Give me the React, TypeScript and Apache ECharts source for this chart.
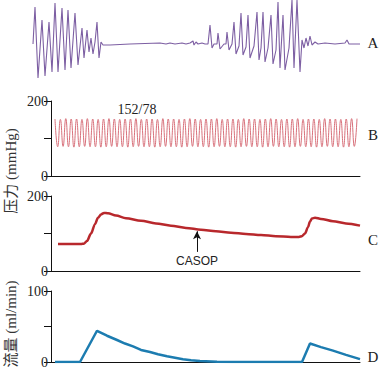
import React, { useEffect, useRef } from "react";
import * as echarts from "echarts";

// Panel A: nerve activity trace, [time, amplitude]
const traceA: [number, number][] = [
  [33, 0], [35, 37], [38, -34], [42, 24], [45, -32], [49, 22], [52, -28], [55, 41], [58, -28],
  [62, 36], [65, -26], [68, 34], [71, -24], [75, 31], [78, -21], [82, 16], [84, -14], [87, 14],
  [89, -8], [91, 6], [93, -10], [95, 2], [97, 22], [99, -14], [101, 2], [103, -1], [110, -1],
  [130, 0], [160, 1], [166, 0], [170, 1], [175, 0], [182, 1], [186, 0], [190, 1], [193, 3],
  [194, -1], [196, 2], [198, 0], [202, 1], [205, 0], [208, 0], [210, 19], [212, -4], [214, 0],
  [217, 0], [218, 11], [220, -5], [224, 0], [226, 0], [227, 12], [229, -6], [232, 0], [234, 22],
  [236, -10], [239, -2], [241, 31], [243, -11], [246, -3], [248, 29], [250, -14], [254, -2],
  [257, 32], [259, -16], [261, -4], [263, 32], [265, -18], [268, -4], [271, 29], [273, -20],
  [276, -6], [278, 42], [280, -24], [283, 29], [285, -26], [289, -4], [292, 44], [294, -24],
  [297, 44], [300, -28], [302, 4], [304, -4], [306, 6], [308, -2], [310, 8], [312, -1],
  [315, 2], [318, 0], [325, 1], [335, 0], [345, 1], [347, 4], [349, 0], [360, 0],
];

// Panel B: arterial pressure beats (mmHg)
const systolic = [
  152, 151, 153, 152, 152, 151, 153, 152, 151, 152, 153, 152, 151, 152, 152, 153, 151, 152, 152,
  151, 153, 152, 152, 151, 152, 153, 152, 151, 152, 152, 153, 151, 152, 152, 151, 153, 152, 152,
  151, 152, 153, 152, 151, 152, 152, 153, 151, 152, 152, 151, 153, 152, 152, 151, 152, 153,
];
const diastolic = [
  78, 79, 78, 77, 78, 79, 78, 78, 77, 78, 79, 78, 78, 77, 78, 79, 78, 78, 77, 78, 79, 78, 78,
  77, 78, 79, 78, 78, 77, 78, 79, 78, 78, 77, 78, 79, 78, 78, 77, 78, 79, 78, 78, 77, 78, 79,
  78, 78, 77, 78, 79, 78, 78, 77, 78, 79,
];
const beatStart = 4;
const beatEnd = 306;
const bpLabel = "152/78";
const bpLabelAt: [number, number] = [86, 178];

// Panel C: coronary sinus pressure (mmHg), [time, value]
const pressureC: [number, number][] = [
  [7, 72], [30, 72], [33, 73], [36, 80], [40, 100], [44, 125], [47, 142], [50, 151], [53, 155],
  [57, 154], [65, 148], [75, 141], [90, 134], [105, 127], [120, 121], [135, 115], [150, 110],
  [165, 106], [180, 102], [195, 99], [210, 96], [225, 93], [240, 91], [248, 91], [251, 93],
  [254, 100], [257, 117], [259, 132], [261, 140], [264, 142], [270, 139], [282, 133], [295, 127],
  [309, 121],
];
const casopTime = 146;
const casopFrom = 51;
const casopTo = 106;

// Panel D: flow (ml/min), [time, value]
const flowD: [number, number][] = [
  [4, 0], [29, 0], [46, 44], [56, 37], [66, 31], [74, 26], [82, 22], [90, 17], [99, 14],
  [107, 11], [116, 8], [124, 6], [132, 4], [140, 2.5], [149, 1.5], [166, 0.5], [182, 0],
  [251, 0], [259, 26], [270, 21], [282, 16], [295, 10], [309, 4],
];

const panelLabels = ["A", "B", "C", "D"];
const pressureTicks = [0, 100, 200];
const flowTicks = [0, 50, 100];

const serif = "'Liberation Serif', 'Noto Sans CJK SC', serif";

export default function App() {
  const ref = useRef<HTMLDivElement>(null);
  useEffect(() => {
    if (!ref.current) return;
    const chart = echarts.init(ref.current, null, { renderer: "svg" });

    const period = (beatEnd - beatStart) / systolic.length;
    const beatData: [number, number][] = [];
    systolic.forEach((s, i) => {
      beatData.push([beatStart + i * period, s]);
      beatData.push([beatStart + (i + 0.5) * period, diastolic[i]]);
    });
    beatData.push([beatEnd, systolic[systolic.length - 1]]);

    const axisLine = { show: true, lineStyle: { color: "#111", width: 1 } };
    const tAxis = (gi: number) => ({
      type: "value" as const,
      gridIndex: gi,
      min: 0,
      max: 309,
      axisLine: { ...axisLine, onZero: false },
      axisTick: { show: false },
      axisLabel: { show: false },
      splitLine: { show: false },
    });
    const vAxis = (gi: number, ticks: number[]) => ({
      type: "value" as const,
      gridIndex: gi,
      min: ticks[0],
      max: ticks[2],
      interval: ticks[1] - ticks[0],
      axisLine: axisLine,
      axisTick: { show: true, length: 7, lineStyle: { color: "#111" } },
      axisLabel: {
        margin: 3,
        fontFamily: serif,
        fontSize: 14,
        color: "#222",
        formatter: (v: number) => (v === ticks[1] ? "" : String(v)),
      },
      splitLine: { show: false },
    });

    const letterY = [43, 135, 240, 357];

    chart.setOption({
      animation: false,
      backgroundColor: "#fff",
      grid: [
        { left: 30, top: 0, width: 330, height: 88 },
        { left: 51, top: 101, width: 309, height: 75 },
        { left: 51, top: 196, width: 309, height: 75 },
        { left: 51, top: 291, width: 309, height: 74 },
      ],
      xAxis: [
        { type: "value", gridIndex: 0, min: 30, max: 360, show: false },
        tAxis(1),
        tAxis(2),
        tAxis(3),
      ],
      yAxis: [
        { type: "value", gridIndex: 0, min: -44, max: 44, show: false },
        vAxis(1, pressureTicks),
        vAxis(2, pressureTicks),
        vAxis(3, flowTicks),
      ],
      series: [
        {
          type: "line",
          xAxisIndex: 0,
          yAxisIndex: 0,
          data: traceA,
          showSymbol: false,
          lineStyle: { color: "#7d5fa3", width: 1.1 },
        },
        {
          type: "line",
          xAxisIndex: 1,
          yAxisIndex: 1,
          data: beatData,
          showSymbol: false,
          smooth: 0.5,
          lineStyle: { color: "#d8707a", width: 1 },
          markPoint: {
            symbol: "circle",
            symbolSize: 1,
            itemStyle: { color: "rgba(0,0,0,0)" },
            data: [{ coord: bpLabelAt, value: bpLabel }],
            label: {
              show: true,
              position: "inside",
              formatter: bpLabel,
              fontFamily: serif,
              fontSize: 14,
              color: "#222",
            },
          },
        },
        {
          type: "line",
          xAxisIndex: 2,
          yAxisIndex: 2,
          data: pressureC,
          showSymbol: false,
          smooth: 0.3,
          smoothMonotone: "x",
          lineStyle: { color: "#b8282c", width: 2.5 },
          markLine: {
            silent: true,
            symbol: ["none", "arrow"],
            symbolSize: [6, 8],
            lineStyle: { color: "#111", width: 1, type: "solid" },
            label: {
              show: true,
              position: "start",
              formatter: "CASOP",
              fontFamily: "'Liberation Sans', Arial, sans-serif",
              fontSize: 12,
              color: "#222",
              distance: 3,
            },
            data: [
              [
                { coord: [casopTime, casopFrom] },
                { coord: [casopTime, casopTo] },
              ],
            ],
          },
        },
        {
          type: "line",
          xAxisIndex: 3,
          yAxisIndex: 3,
          data: flowD,
          showSymbol: false,
          lineStyle: { color: "#1c7cb0", width: 2.5 },
        },
      ],
      graphic: [
        ...panelLabels.map((t, i) => ({
          type: "text",
          x: 373,
          y: letterY[i],
          style: {
            text: t,
            font: `15px ${serif}`,
            fill: "#222",
            textAlign: "center",
            textVerticalAlign: "middle",
          },
        })),
        {
          type: "text",
          x: 11,
          y: 171,
          rotation: Math.PI / 2,
          style: {
            text: "压力 (mmHg)",
            font: `15px ${serif}`,
            fill: "#333",
            textAlign: "center",
            textVerticalAlign: "middle",
          },
        },
        {
          type: "text",
          x: 11,
          y: 324,
          rotation: Math.PI / 2,
          style: {
            text: "流量 (ml/min)",
            font: `15px ${serif}`,
            fill: "#333",
            textAlign: "center",
            textVerticalAlign: "middle",
          },
        },
      ],
    });
    return () => chart.dispose();
  }, []);
  return (
    <div
      ref={ref}
      style={{ position: "fixed", left: 0, top: 0, width: 380, height: 369 }}
    />
  );
}
